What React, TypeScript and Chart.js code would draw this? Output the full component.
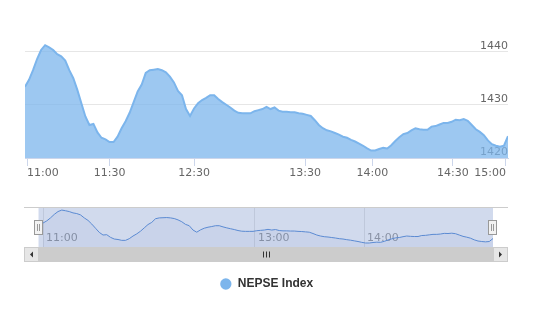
import React, { useEffect, useRef } from "react";
import { Chart, registerables } from "chart.js";

Chart.register(...registerables);

// ---- data ----
const seriesName = "NEPSE Index";

// NEPSE index, one value per ordinal step from 11:00 to 15:00
const indexValues = [
  1433.4, 1434.7, 1436.5, 1438.6, 1440.3, 1441.2, 1440.8, 1440.3, 1439.5, 1439.1,
  1438.3, 1436.5, 1435.0, 1432.8, 1430.3, 1427.8, 1426.2, 1426.4, 1424.8, 1423.8,
  1423.5, 1423.0, 1423.0, 1424.0, 1425.6, 1426.9, 1428.5, 1430.5, 1432.5, 1433.8,
  1436.0, 1436.5, 1436.6, 1436.7, 1436.5, 1436.1, 1435.3, 1434.2, 1432.6, 1431.8,
  1429.2, 1427.9, 1429.3, 1430.3, 1430.9, 1431.3, 1431.8, 1431.8, 1431.1, 1430.5,
  1430.0, 1429.5, 1428.9, 1428.5, 1428.4, 1428.4, 1428.4, 1428.8, 1429.0, 1429.2,
  1429.6, 1429.2, 1429.5, 1428.9, 1428.7, 1428.7, 1428.6, 1428.6, 1428.4, 1428.3,
  1428.1, 1427.9, 1427.1, 1426.2, 1425.6, 1425.2, 1425.0, 1424.7, 1424.4, 1424.0,
  1423.8, 1423.4, 1423.1, 1422.7, 1422.3, 1421.8, 1421.4, 1421.4, 1421.7, 1421.9,
  1421.8, 1422.4, 1423.2, 1423.9, 1424.5, 1424.7, 1425.2, 1425.6, 1425.4, 1425.3,
  1425.3, 1425.9, 1426.0, 1426.3, 1426.6, 1426.6, 1426.8, 1427.2, 1427.1, 1427.3,
  1427.0, 1426.2, 1425.4, 1424.9, 1424.3, 1423.3, 1422.6, 1422.3, 1422.1, 1422.3,
  1424.1,
];

// main (ordinal) time axis ticks: position in the series, and label
const xTickPositions = [0.5, 21, 42, 69.6, 86.3, 106.3, 119.5];
const xTickLabels = ["11:00", "11:30", "12:30", "13:30", "14:00", "14:30", "15:00"];

// value axis ticks
const yTicks = [1420, 1430, 1440];
const yMin = 1420;
const yMax = 1448;

// navigator axis ticks
const navTickPositions = [0, 56.5, 85.6];
const navTickLabels = ["11:00", "13:00", "14:00"];
const navRange = [-5.07, 124];
const navYRange = [1419.0, 1443.05];
const selectionRange = [-1.2, 120];

const axisFont = { family: "'DejaVu Sans', sans-serif", size: 11 };

const navigatorDecor = {
  id: "navigatorDecor",
  beforeDatasetsDraw(chart: any) {
    const { ctx, chartArea, scales } = chart;
    const x0 = scales.x.getPixelForValue(selectionRange[0]);
    const x1 = scales.x.getPixelForValue(selectionRange[1]);
    ctx.save();
    ctx.fillStyle = "rgba(102,133,194,0.3)";
    ctx.fillRect(x0, chartArea.top, x1 - x0, chartArea.bottom - chartArea.top);
    ctx.restore();
  },
  afterDraw(chart: any) {
    const { ctx, chartArea, scales } = chart;
    const { left, right, top, bottom } = chartArea;
    const x0 = scales.x.getPixelForValue(selectionRange[0]);
    const x1 = scales.x.getPixelForValue(selectionRange[1]);
    ctx.save();
    // top outline
    ctx.strokeStyle = "#cccccc";
    ctx.lineWidth = 1;
    ctx.beginPath();
    ctx.moveTo(left, Math.round(top) + 0.5);
    ctx.lineTo(right, Math.round(top) + 0.5);
    ctx.stroke();

    // scrollbar
    const sTop = Math.round(bottom);
    const sH = 15;
    const bw = 15;
    ctx.fillStyle = "#f2f2f2";
    ctx.fillRect(left, sTop, right - left, sH);
    const barL = Math.max(x0, left + bw);
    const barR = Math.min(x1, right - bw);
    ctx.fillStyle = "#cccccc";
    ctx.fillRect(barL, sTop, barR - barL, sH);
    // buttons
    ctx.fillStyle = "#e6e6e6";
    ctx.fillRect(left, sTop, bw, sH);
    ctx.fillRect(right - bw, sTop, bw, sH);
    ctx.strokeStyle = "#cccccc";
    ctx.strokeRect(left + 0.5, sTop + 0.5, bw - 1, sH - 1);
    ctx.strokeRect(right - bw + 0.5, sTop + 0.5, bw - 1, sH - 1);
    // arrows
    ctx.fillStyle = "#333333";
    const cy = sTop + sH / 2;
    let cx = left + bw / 2;
    ctx.beginPath();
    ctx.moveTo(cx - 1.5, cy);
    ctx.lineTo(cx + 1.5, cy - 3);
    ctx.lineTo(cx + 1.5, cy + 3);
    ctx.closePath();
    ctx.fill();
    cx = right - bw / 2;
    ctx.beginPath();
    ctx.moveTo(cx + 1.5, cy);
    ctx.lineTo(cx - 1.5, cy - 3);
    ctx.lineTo(cx - 1.5, cy + 3);
    ctx.closePath();
    ctx.fill();
    // rifles
    const mid = Math.round((barL + barR) / 2);
    ctx.strokeStyle = "#333333";
    ctx.beginPath();
    for (const dx of [-3, 0, 3]) {
      ctx.moveTo(mid + dx + 0.5, cy - 3);
      ctx.lineTo(mid + dx + 0.5, cy + 3);
    }
    ctx.stroke();

    // handles
    const hy = Math.round((top + bottom) / 2 - 7) + 0.5;
    for (const hx0 of [x0, x1]) {
      const hx = Math.round(hx0);
      ctx.fillStyle = "#f2f2f2";
      ctx.strokeStyle = "#999999";
      ctx.fillRect(hx - 4.5, hy, 8, 14);
      ctx.strokeRect(hx - 4.5, hy, 8, 14);
      ctx.beginPath();
      ctx.moveTo(hx - 1.5, hy + 3.5);
      ctx.lineTo(hx - 1.5, hy + 10.5);
      ctx.moveTo(hx + 0.5, hy + 3.5);
      ctx.lineTo(hx + 0.5, hy + 10.5);
      ctx.stroke();
    }
    ctx.restore();
  },
};

function points() {
  return indexValues.map((v, i) => ({ x: i, y: v }));
}

export default function App() {
  const mainRef = useRef<HTMLCanvasElement>(null);
  const navRef = useRef<HTMLCanvasElement>(null);

  useEffect(() => {
    const main = new Chart(mainRef.current as HTMLCanvasElement, {
      type: "line",
      data: {
        datasets: [
          {
            label: seriesName,
            data: points(),
            borderColor: "#7cb5ec",
            backgroundColor: "rgba(124,181,236,0.75)",
            borderWidth: 2,
            fill: "start",
            pointRadius: 0,
            tension: 0,
            yAxisID: "y",
          },
        ],
      },
      options: {
        animation: false,
        responsive: false,
        layout: { padding: { left: 25, right: 27, top: 9, bottom: 14 } },
        scales: {
          x: {
            type: "linear",
            min: 0,
            max: indexValues.length - 1,
            afterBuildTicks: (s: any) => {
              s.ticks = xTickPositions.map((v) => ({ value: v }));
            },
            afterFit: (s: any) => {
              s.height = 110;
            },
            grid: { drawOnChartArea: false, drawTicks: true, tickLength: 8, color: "#ccd6eb" },
            border: { display: true, color: "#ccd6eb" },
            ticks: {
              autoSkip: false,
              maxRotation: 0,
              align: "inner",
              padding: 1,
              color: "#666666",
              font: axisFont,
              callback: (_v: any, i: number) => xTickLabels[i],
            },
          },
          y: {
            position: "right",
            min: yMin,
            max: yMax,
            afterBuildTicks: (s: any) => {
              s.ticks = yTicks.map((v) => ({ value: v }));
            },
            grid: { color: "#e6e6e6", drawTicks: false },
            border: { display: false },
            ticks: { display: false },
          },
          yLabels: {
            position: "right",
            min: yMin,
            max: yMax,
            z: 1,
            afterBuildTicks: (s: any) => {
              s.ticks = yTicks.map((v) => ({ value: v }));
            },
            grid: { display: false, drawTicks: false },
            border: { display: false },
            ticks: {
              mirror: true,
              padding: 0,
              labelOffset: -5.5,
              color: "#666666",
              font: axisFont,
              callback: (v: any) => String(v),
            },
          },
        },
        plugins: {
          legend: {
            display: true,
            position: "bottom",
            labels: {
              usePointStyle: true,
              pointStyle: "circle",
              boxWidth: 12,
              boxHeight: 8,
              color: "#333333",
              font: { family: "'Liberation Sans', Arial, sans-serif", size: 12, weight: "bold" },
              generateLabels: () => [
                {
                  text: seriesName,
                  fillStyle: "#7cb5ec",
                  strokeStyle: "#7cb5ec",
                  lineWidth: 0,
                  pointStyle: "circle",
                  hidden: false,
                  datasetIndex: 0,
                  fontColor: "#333333",
                },
              ],
            },
          },
          tooltip: { enabled: false },
        },
      },
    } as any);

    const nav = new Chart(navRef.current as HTMLCanvasElement, {
      type: "line",
      data: {
        datasets: [
          {
            data: points(),
            borderColor: "#5b8ad2",
            backgroundColor: "rgba(51,92,173,0.05)",
            borderWidth: 1,
            fill: "start",
            pointRadius: 0,
            tension: 0,
          },
        ],
      },
      options: {
        animation: false,
        responsive: false,
        layout: { padding: { left: 24, right: 27, top: 7, bottom: 0 } },
        scales: {
          x: {
            type: "linear",
            min: navRange[0],
            max: navRange[1],
            afterBuildTicks: (s: any) => {
              s.ticks = navTickPositions.map((v) => ({ value: v }));
            },
            afterFit: (s: any) => {
              s.height = 15;
            },
            grid: { color: "#e6e6e6", drawTicks: false },
            border: { display: false },
            ticks: {
              autoSkip: false,
              maxRotation: 0,
              align: "start",
              mirror: true,
              labelOffset: 3,
              padding: 2,
              color: "#999999",
              font: axisFont,
              callback: (_v: any, i: number) => navTickLabels[i],
            },
          },
          y: { display: false, min: navYRange[0], max: navYRange[1] },
        },
        plugins: { legend: { display: false }, tooltip: { enabled: false } },
      },
      plugins: [navigatorDecor],
    } as any);

    return () => {
      main.destroy();
      nav.destroy();
    };
  }, []);

  return (
    <div style={{ position: "absolute", left: 0, top: 0, width: 535, height: 314, background: "#ffffff" }}>
      <canvas
        ref={mainRef}
        width={535}
        height={314}
        style={{ position: "absolute", left: 0, top: 0, width: 535, height: 314 }}
      />
      <canvas
        ref={navRef}
        width={535}
        height={62}
        style={{ position: "absolute", left: 0, top: 200, width: 535, height: 62 }}
      />
    </div>
  );
}
